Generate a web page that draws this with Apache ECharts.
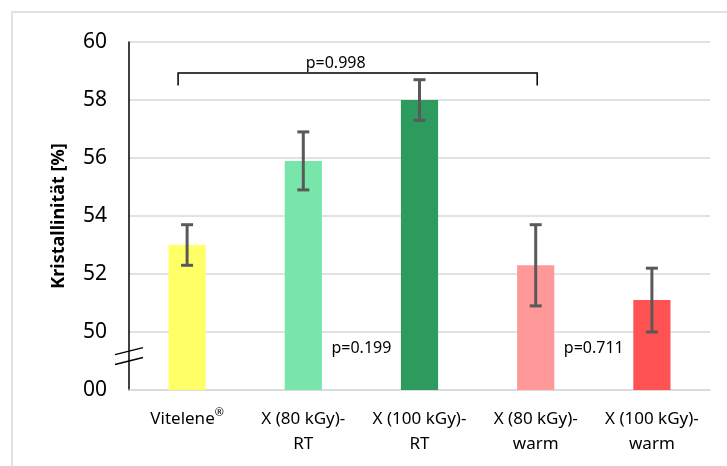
<!DOCTYPE html>
<html>
<head>
<meta charset="utf-8">
<script src="https://cdn.jsdelivr.net/npm/echarts@6/dist/echarts.min.js"></script>
<style>
  html, body { margin: 0; padding: 0; background: #ffffff; }
  #chart { width: 727px; height: 466px; }
</style>
</head>
<body>
<div id="chart"></div>
<script>
// Sample groups on the x axis
const categories = ['Vitelene®', 'X (80 kGy)-\nRT', 'X (100 kGy)-\nRT', 'X (80 kGy)-\nwarm', 'X (100 kGy)-\nwarm'];
// Mean crystallinity in percent
const crystallinity = [53.0, 55.9, 58.0, 52.3, 51.1];
// Lower and upper ends of the error bars
const errorLow = [52.3, 54.9, 57.3, 50.9, 50.0];
const errorHigh = [53.7, 56.9, 58.7, 53.7, 52.2];
// Bar fill per group
const barColors = ['#FFFF66', '#78E6AA', '#2E9B5E', '#FF9999', '#FF5252'];
// Value axis: ticks from the broken base up to 60; the base tick reads "00"
const axisBase = 48;
const axisTop = 60;
const axisStep = 2;
const baseTickLabel = '00';
// Significance annotations
const bracketFrom = 0, bracketTo = 3, bracketLabel = 'p=0.998';
const pairLabels = [
  { left: 1, right: 2, text: 'p=0.199' },
  { left: 3, right: 4, text: 'p=0.711' }
];

const FONT = '"Noto Sans", "Open Sans", sans-serif';
const chart = echarts.init(document.getElementById('chart'));

function errorBarItem(params, api) {
  const i = api.value(0);
  const lo = api.coord([i, api.value(1)]);
  const hi = api.coord([i, api.value(2)]);
  const cap = 6;
  const style = { stroke: '#595959', lineWidth: 3 };
  return {
    type: 'group',
    children: [
      { type: 'line', shape: { x1: lo[0], y1: lo[1], x2: hi[0], y2: hi[1] }, style },
      { type: 'line', shape: { x1: lo[0] - cap, y1: lo[1], x2: lo[0] + cap, y2: lo[1] }, style },
      { type: 'line', shape: { x1: hi[0] - cap, y1: hi[1], x2: hi[0] + cap, y2: hi[1] }, style }
    ]
  };
}

function annotationItem(params, api) {
  const cs = params.coordSys;
  const children = [];
  // bracket over the compared groups
  const pTop = api.coord([bracketFrom, 58.93]);
  const pLeg = api.coord([bracketFrom, 58.5]);
  const xL = pTop[0] - 9;
  const xR = api.coord([bracketTo, 58.93])[0] + 1.5;
  children.push({
    type: 'polyline',
    shape: { points: [[xL, pLeg[1]], [xL, pTop[1]], [xR, pTop[1]], [xR, pLeg[1]]] },
    style: { stroke: '#000000', lineWidth: 1.5, fill: null }
  });
  children.push({
    type: 'text',
    style: {
      text: bracketLabel, x: (xL + xR) / 2 - 22, y: pTop[1] - 2,
      align: 'center', verticalAlign: 'bottom',
      font: '16px ' + FONT, fill: '#000000'
    }
  });
  // labels between neighbouring bars
  pairLabels.forEach(function (p) {
    const a = api.coord([p.left, 49.45]);
    const b = api.coord([p.right, 49.45]);
    children.push({
      type: 'text',
      style: {
        text: p.text, x: (a[0] + b[0]) / 2, y: a[1],
        align: 'center', verticalAlign: 'middle',
        font: '16px ' + FONT, fill: '#000000'
      }
    });
  });
  // axis break marks on the value axis
  const ax = cs.x;
  [49.34, 49.0].forEach(function (v) {
    const y = api.coord([0, v])[1];
    children.push({
      type: 'line',
      shape: { x1: ax - 14, y1: y + 3.5, x2: ax + 14, y2: y - 3.5 },
      style: { stroke: '#000000', lineWidth: 1.5 }
    });
  });
  return { type: 'group', children };
}

chart.setOption({
  animation: false,
  backgroundColor: '#ffffff',
  graphic: [{
    type: 'rect',
    shape: { x: 12, y: 12, width: 800, height: 600 },
    style: { fill: null, stroke: '#d9d9d9', lineWidth: 1.5 },
    silent: true
  }],
  grid: { left: 129, right: 17, top: 42, bottom: 76 },
  xAxis: {
    type: 'category',
    data: categories,
    axisLine: { lineStyle: { color: '#d9d9d9', width: 1.5 } },
    axisTick: { show: false },
    axisLabel: {
      fontFamily: FONT, fontSize: 17, color: '#000000',
      margin: 17, lineHeight: 25, interval: 0,
      formatter: function (v) { return v.replace('®', '{sup|®}'); },
      rich: {
        sup: { fontFamily: FONT, fontSize: 11, color: '#000000', verticalAlign: 'top', lineHeight: 25, padding: [0, 0, 6, 0] }
      }
    }
  },
  yAxis: {
    type: 'value',
    min: axisBase, max: axisTop, interval: axisStep,
    name: 'Kristallinität [%]',
    nameLocation: 'middle',
    nameGap: 61,
    nameRotate: 90,
    nameTextStyle: { fontFamily: FONT, fontSize: 18, fontWeight: 'bold', color: '#000000' },
    axisLine: { show: true, lineStyle: { color: '#000000', width: 1.5 } },
    axisTick: { show: false },
    splitLine: { lineStyle: { color: '#d9d9d9', width: 1.5 } },
    axisLabel: {
      fontFamily: FONT, fontSize: 21, color: '#000000', margin: 22,
      formatter: function (v) { return v === axisBase ? baseTickLabel : String(v); }
    }
  },
  series: [
    {
      type: 'bar',
      clip: true,
      barWidth: '32%',
      data: crystallinity.map(function (v, i) {
        return { value: v, itemStyle: { color: barColors[i] } };
      }),
      z: 2
    },
    {
      type: 'custom',
      renderItem: errorBarItem,
      data: crystallinity.map(function (v, i) { return [i, errorLow[i], errorHigh[i]]; }),
      z: 3
    },
    {
      type: 'custom',
      renderItem: annotationItem,
      clip: false,
      data: [[0]],
      z: 4
    }
  ]
});
</script>
</body>
</html>
